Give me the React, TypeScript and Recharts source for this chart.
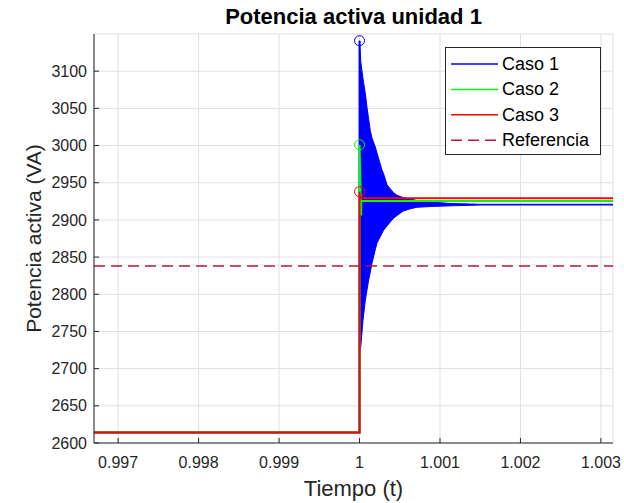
import React from 'react';
import { ComposedChart, Line, Area, XAxis, YAxis, CartesianGrid, ReferenceDot } from 'recharts';

const FONT = '"Liberation Sans", Arial, Helvetica, sans-serif';
const AXIS_COLOR = '#262626';
const GRID_COLOR = '#dfdfdf';

// Axes
const xDomain = [0.9967, 1.00315];
const xTicks = [0.997, 0.998, 0.999, 1, 1.001, 1.002, 1.003];
const yDomain = [2600, 3150];
const yTicks = [2600, 2650, 2700, 2750, 2800, 2850, 2900, 2950, 3000, 3050, 3100];

// Caso 1 (azul): escalon y oscilacion amortiguada (envolvente)
const caso1Times = [0.9967, 1.0, 1.0];
const caso1Values = [2614, 2614, 3141];
const caso1EnvTimes = [
  1.0, 1.000016, 1.000043, 1.000072, 1.000093, 1.000113, 1.000134, 1.000155, 1.000196, 1.000217, 1.000279,
  1.000299, 1.000342, 1.00042, 1.000466, 1.000544, 1.000631, 1.000714, 1.000879, 1.00115, 1.0015, 1.00315,
];
const caso1EnvHigh = [
  3141, 3112, 3090, 3070, 3051, 3036, 3020, 3010, 2998, 2990, 2967,
  2962, 2947, 2937, 2933, 2930, 2928, 2926, 2924, 2922, 2921, 2921,
];
const caso1EnvLow = [
  2722, 2730, 2765, 2792, 2806, 2819, 2830, 2842, 2860, 2869, 2882,
  2886, 2892, 2902, 2906, 2912, 2915, 2917, 2918, 2919, 2920, 2920,
];

// Caso 2 (verde)
const caso2Times = [0.9967, 1.0, 1.0, 1.00002, 1.000022, 1.00315];
const caso2Values = [2614, 2614, 3001, 2906, 2925.5, 2925.5];

// Caso 3 (rojo)
const caso3Times = [0.9967, 1.0, 1.0, 1.000005, 1.00315];
const caso3Values = [2614, 2614, 2938, 2929, 2929];

// Referencia
const refTimes = [0.9967, 1.00315];
const refValues = [2838, 2838];

// Picos marcados con circulo
const peakTimes = [1.0, 1.0, 1.0];
const peakValues = [3141, 3001, 2938];

const BLUE = '#0000ff';
const GREEN = '#00ff00';
const RED = '#ff0000';
const REF = '#b8143a';
const peakColors = [BLUE, GREEN, RED];

const toPoints = (times: number[], values: number[]) => times.map((t, i) => ({ t, v: values[i] }));

const caso1 = toPoints(caso1Times, caso1Values);
const caso1Env = caso1EnvTimes.map((t, i) => ({ t, range: [caso1EnvLow[i], caso1EnvHigh[i]] }));
const caso2 = toPoints(caso2Times, caso2Values);
const caso3 = toPoints(caso3Times, caso3Values);
const referencia = toPoints(refTimes, refValues);

const legendItems = [
  { name: 'Caso 1', color: BLUE, dash: undefined },
  { name: 'Caso 2', color: GREEN, dash: undefined },
  { name: 'Caso 3', color: RED, dash: undefined },
  { name: 'Referencia', color: REF, dash: '11 6' },
];

const formatX = (v: number) => String(Number(v.toFixed(3)));

const tickStyle = { fontSize: 16, fill: AXIS_COLOR, fontFamily: FONT };

const XLabel = (props: any) => {
  const vb = props.viewBox || {};
  return (
    <text
      x={vb.x + vb.width / 2}
      y={488}
      textAnchor="middle"
      dominantBaseline="central"
      fontSize={22}
      fontFamily={FONT}
      fill={AXIS_COLOR}
    >
      Tiempo (t)
    </text>
  );
};

const YLabel = (props: any) => {
  const vb = props.viewBox || {};
  const cx = 33;
  const cy = vb.y + vb.height / 2;
  return (
    <text
      x={cx}
      y={cy}
      transform={`rotate(-90 ${cx} ${cy})`}
      textAnchor="middle"
      dominantBaseline="central"
      fontSize={21}
      fontFamily={FONT}
      fill={AXIS_COLOR}
    >
      Potencia activa (VA)
    </text>
  );
};

const App: React.FC = () => {
  return (
    <div style={{ position: 'absolute', left: 0, top: 0, width: 624, height: 503, background: '#fff' }}>
      <div
        style={{
          position: 'absolute',
          left: 0,
          top: 6,
          width: 707,
          textAlign: 'center',
          fontFamily: FONT,
          fontWeight: 'bold',
          fontSize: 22,
          lineHeight: '22px',
          color: '#000',
        }}
      >
        Potencia activa unidad 1
      </div>
      <ComposedChart width={624} height={503} margin={{ top: 34, right: 11, bottom: 0, left: 0 }}>
        <CartesianGrid stroke={GRID_COLOR} strokeWidth={1} />
        <XAxis
          dataKey="t"
          type="number"
          domain={xDomain}
          ticks={xTicks}
          allowDataOverflow
          height={60}
          tickSize={-5}
          tickMargin={19}
          tickFormatter={formatX}
          tick={tickStyle}
          axisLine={{ stroke: AXIS_COLOR }}
          tickLine={{ stroke: AXIS_COLOR }}
          label={<XLabel />}
        />
        <XAxis
          xAxisId="top"
          orientation="top"
          dataKey="t"
          type="number"
          domain={xDomain}
          ticks={xTicks}
          allowDataOverflow
          height={0}
          tickSize={-5}
          tickFormatter={() => ''}
          axisLine={{ stroke: AXIS_COLOR }}
          tickLine={{ stroke: AXIS_COLOR }}
        />
        <YAxis
          type="number"
          domain={yDomain}
          ticks={yTicks}
          allowDataOverflow
          width={94}
          tickSize={-5}
          tickMargin={12}
          tick={tickStyle}
          axisLine={{ stroke: AXIS_COLOR }}
          tickLine={{ stroke: AXIS_COLOR }}
          label={<YLabel />}
        />
        <YAxis
          yAxisId="right"
          orientation="right"
          type="number"
          domain={yDomain}
          ticks={yTicks}
          allowDataOverflow
          width={0}
          tickSize={-5}
          tickFormatter={() => ''}
          axisLine={{ stroke: AXIS_COLOR }}
          tickLine={{ stroke: AXIS_COLOR }}
        />
        <Area
          data={caso1Env}
          dataKey="range"
          type="linear"
          stroke={BLUE}
          strokeWidth={1}
          fill={BLUE}
          fillOpacity={1}
          dot={false}
          activeDot={false}
          isAnimationActive={false}
        />
        <Line data={caso1} dataKey="v" type="linear" stroke={BLUE} strokeWidth={2} dot={false} activeDot={false} isAnimationActive={false} />
        <Line data={caso2} dataKey="v" type="linear" stroke={GREEN} strokeWidth={2} dot={false} activeDot={false} isAnimationActive={false} />
        <Line data={caso3} dataKey="v" type="linear" stroke={RED} strokeWidth={2} dot={false} activeDot={false} isAnimationActive={false} />
        {peakTimes.map((t, i) => (
          <ReferenceDot
            key={`peak-${i}`}
            x={t}
            y={peakValues[i]}
            r={5}
            fill="none"
            stroke={peakColors[i]}
            strokeWidth={1}
          />
        ))}
        <Line
          data={referencia}
          dataKey="v"
          type="linear"
          stroke={REF}
          strokeWidth={1.5}
          strokeDasharray="11 6"
          dot={false}
          activeDot={false}
          isAnimationActive={false}
        />
      </ComposedChart>

      {/* Leyenda */}
      <svg style={{ position: 'absolute', left: 445, top: 47 }} width={156} height={108}>
        <rect x={0.5} y={0.5} width={155} height={107} fill="#fff" stroke={AXIS_COLOR} strokeWidth={1} />
        {legendItems.map((item, i) => {
          const cy = 17 + i * 25.4;
          return (
            <g key={item.name}>
              <line x1={6} x2={53} y1={cy} y2={cy} stroke={item.color} strokeWidth={1.5} strokeDasharray={item.dash} />
              <text x={57} y={cy} dominantBaseline="central" fontSize={18} fontFamily={FONT} fill="#000">
                {item.name}
              </text>
            </g>
          );
        })}
      </svg>
    </div>
  );
};

export default App;
